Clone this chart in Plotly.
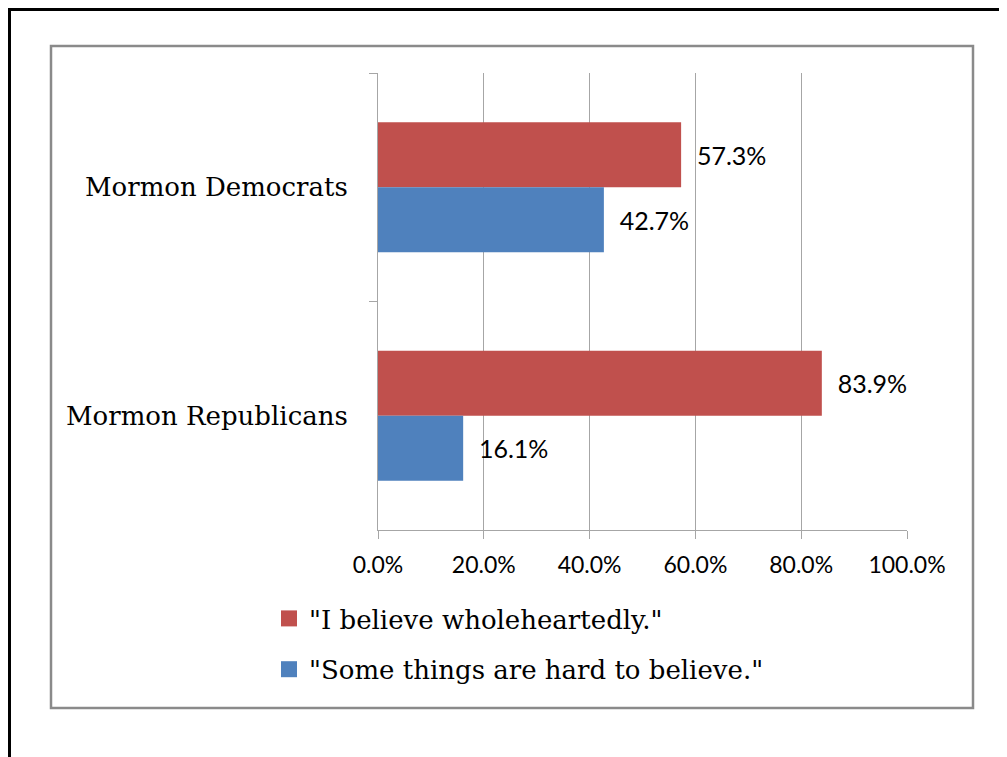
import plotly.graph_objects as go

categories = ["Mormon Democrats", "Mormon Republicans"]
series_names = ['"I believe wholeheartedly."', '"Some things are hard to believe."']
believe_whole = [0.573, 0.839]
hard_to_believe = [0.427, 0.161]
tick_vals = [0.0, 0.2, 0.4, 0.6, 0.8, 1.0]
tick_text = ["0.0%", "20.0%", "40.0%", "60.0%", "80.0%", "100.0%"]

RED = "#C0504D"
BLUE = "#4F81BD"
SANS = "Lato, 'Open Sans', sans-serif"
SERIF = "'DejaVu Serif', serif"

OFF = 8  # browser body margin
W, H = 1007 - OFF, 757 - OFF
L, R, T, B = 378 - OFF, 100, 73 - OFF, 227
pw, ph = W - L - R, H - T - B

def px(x):  # page x -> paper
    return (x - OFF - L) / pw

def py(y):  # page y -> paper
    return (H - B - (y - OFF)) / ph

fig = go.Figure()
for name, vals, col, grp in [(series_names[0], believe_whole, RED, "a"),
                             (series_names[1], hard_to_believe, BLUE, "b")]:
    fig.add_trace(go.Bar(
        y=categories, x=vals, name=name, orientation="h",
        marker=dict(color=col, line=dict(width=0)),
        text=["  " + f"{v*100:.1f}%" for v in vals], textposition="outside",
        textfont=dict(family=SANS, size=25, color="#000"), cliponaxis=False,
        showlegend=False, legendgroup=grp,
    ))
for name, col, grp in [(series_names[0], RED, "a"), (series_names[1], BLUE, "b")]:
    fig.add_trace(go.Scatter(
        x=[None], y=[None], mode="markers", name=name, legendgroup=grp,
        marker=dict(symbol="square", size=16, color=col), showlegend=True,
    ))

shapes = [
    dict(type="rect", xref="paper", yref="paper", x0=px(9.5), x1=px(1030), y0=py(9.5), y1=py(790),
         line=dict(color="#000", width=3), layer="below"),
    dict(type="rect", xref="paper", yref="paper", x0=px(51), x1=px(973), y0=py(46), y1=py(708),
         line=dict(color="#8a8a8a", width=2.5), layer="below"),
]

fig.update_layout(
    width=W, height=H,
    margin=dict(l=L, r=R, t=T, b=B, autoexpand=False),
    paper_bgcolor="white", plot_bgcolor="white",
    barmode="group", bargap=0.43, bargroupgap=0,
    showlegend=True,
    legend=dict(x=px(269), y=py(595), xanchor="left", yanchor="top",
                font=dict(family=SERIF, size=26, color="#000"),
                tracegroupgap=14, itemwidth=30, bgcolor="rgba(0,0,0,0)"),
    shapes=shapes,
)
fig.update_xaxes(
    range=[0, 1], tickvals=tick_vals, ticktext=tick_text,
    showgrid=True, gridcolor="#a6a6a6", gridwidth=1,
    showline=True, linecolor="#a6a6a6", linewidth=1,
    ticks="outside", ticklen=8, tickcolor="#a6a6a6",
    tickfont=dict(family=SANS, size=23, color="#000"), zeroline=False,
    ticklabelstandoff=6,
)
fig.update_yaxes(
    autorange="reversed", showgrid=False,
    showline=True, linecolor="#a6a6a6", linewidth=1,
    ticks="outside", ticklen=8, tickcolor="#a6a6a6", tickson="boundaries",
    tickfont=dict(family=SERIF, size=26, color="#000"), ticklabelstandoff=24,
)

fig.write_html("out.html")
